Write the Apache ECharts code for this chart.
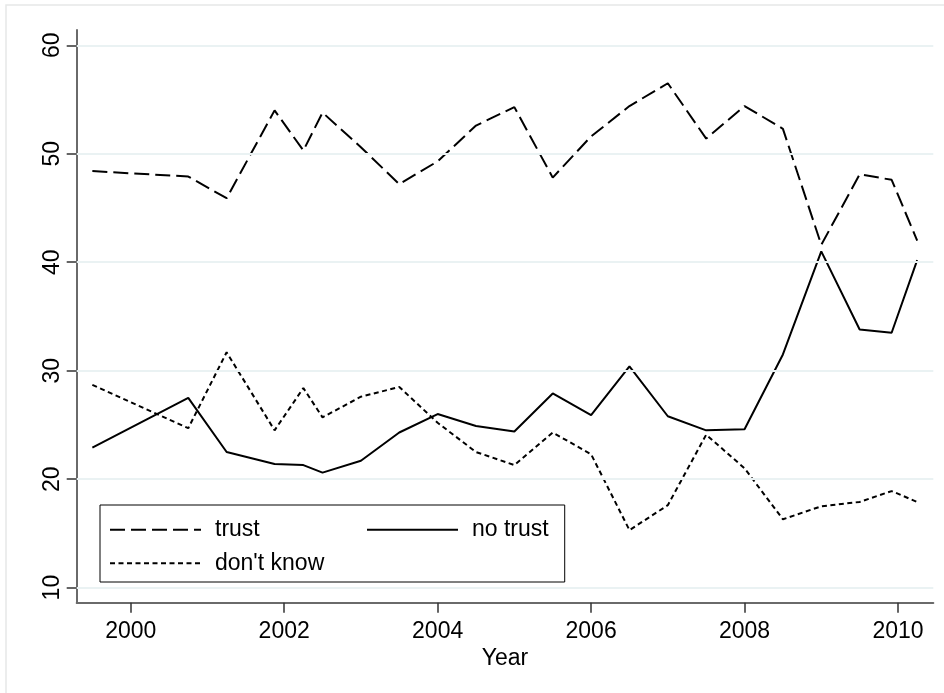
<!DOCTYPE html>
<html>
<head>
<meta charset="utf-8">
<title>Trust over time</title>
<script src="https://cdn.jsdelivr.net/npm/echarts@6/dist/echarts.min.js"></script>
<style>
  html, body { margin: 0; padding: 0; background: #ffffff; }
  #chart { width: 944px; height: 693px; }
</style>
</head>
<body>
<div id="chart"></div>
<script>
// Survey dates (decimal years) and shares of respondents, in percent
const surveyDates = [1999.5, 2000.75, 2001.25, 2001.875, 2002.25, 2002.5, 2003.0, 2003.5,
  2004.0, 2004.5, 2005.0, 2005.5, 2006.0, 2006.5, 2007.0, 2007.5, 2008.0, 2008.5,
  2009.0, 2009.5, 2009.917, 2010.25];
const trust = [48.4, 47.9, 45.9, 54.0, 50.3, 53.8, 50.6, 47.2, 49.3, 52.6, 54.3, 47.8,
  51.6, 54.4, 56.5, 51.4, 54.4, 52.3, 41.6, 48.1, 47.6, 42.0];
const noTrust = [22.9, 27.5, 22.5, 21.4, 21.3, 20.6, 21.7, 24.3, 26.0, 24.9, 24.4, 27.9,
  25.9, 30.4, 25.8, 24.5, 24.6, 31.5, 41.0, 33.8, 33.5, 40.2];
const dontKnow = [28.7, 24.7, 31.7, 24.5, 28.4, 25.7, 27.6, 28.5, 25.2, 22.5, 21.3, 24.3,
  22.3, 15.3, 17.6, 24.1, 21.0, 16.3, 17.5, 17.9, 18.9, 17.9];

const xTicks = [2000, 2002, 2004, 2006, 2008, 2010];
const yTicks = [10, 20, 30, 40, 50, 60];
const seriesNames = ['trust', 'no trust', "don't know"];

const FONT = "'Liberation Sans', Arial, sans-serif";
const pairs = vals => surveyDates.map((d, i) => [d, vals[i]]);

const chart = echarts.init(document.getElementById('chart'), null, { renderer: 'canvas' });

chart.setOption({
  backgroundColor: '#ffffff',
  animation: false,
  textStyle: { fontFamily: FONT },
  graphic: [{
    type: 'rect',
    shape: { x: 6, y: 5, width: 960, height: 720 },
    style: { fill: null, stroke: '#e6e8e8', lineWidth: 1.5 },
    silent: true,
    z: -10
  }],
  grid: { left: 76.7, right: 10.7, top: 30, bottom: 90.3, containLabel: false },
  xAxis: {
    type: 'value',
    min: 1999.296,
    max: 2010.46,
    name: 'Year',
    nameLocation: 'middle',
    nameGap: 42,
    nameTextStyle: { fontFamily: FONT, fontSize: 23, color: '#000' },
    axisLine: { show: true, onZero: false, lineStyle: { color: '#6a6a6a', width: 2 } },
    axisTick: { show: true, length: 10, customValues: xTicks, lineStyle: { color: '#333', width: 1.5 } },
    axisLabel: {
      customValues: xTicks, margin: 17, fontFamily: FONT, fontSize: 23, color: '#000',
      formatter: v => String(Math.round(v))
    },
    splitLine: { show: false }
  },
  yAxis: {
    type: 'value',
    min: 8.61,
    max: 61.41,
    axisLine: { show: true, onZero: false, lineStyle: { color: '#6a6a6a', width: 2 } },
    axisTick: { show: true, length: 10, customValues: yTicks, lineStyle: { color: '#333', width: 1.5 } },
    axisLabel: {
      customValues: yTicks, rotate: 90, margin: 13, fontFamily: FONT, fontSize: 23, color: '#000',
      formatter: v => String(Math.round(v))
    },
    splitLine: { show: false }
  },
  legend: {
    data: seriesNames.map((n, i) => i === 0 ? { name: n, textStyle: { width: 151 } } : { name: n }),
    left: 100,
    top: 505,
    width: 450,
    orient: 'horizontal',
    align: 'left',
    padding: [8, 16, 2, 9],
    itemGap: 0,
    itemWidth: 91,
    itemHeight: 14,
    borderColor: '#000',
    borderWidth: 1,
    backgroundColor: '#ffffff',
    selectedMode: false,
    itemStyle: { color: 'rgba(0,0,0,0)', borderWidth: 0, opacity: 0 },
    textStyle: { fontFamily: FONT, fontSize: 23, color: '#000', lineHeight: 33.5, padding: [0, 0, 0, 9] }
  },
  series: [
    {
      // horizontal reference lines at the labelled values
      type: 'line',
      data: [],
      silent: true,
      z: 1,
      markLine: {
        silent: true,
        symbol: 'none',
        label: { show: false },
        lineStyle: { color: '#eaf2f3', type: 'solid', width: 2 },
        data: yTicks.map(v => ({ yAxis: v }))
      }
    },
    {
      name: seriesNames[0],
      type: 'line',
      data: pairs(trust),
      symbol: 'none',
      z: 3,
      lineStyle: { color: '#000', width: 2, type: [15, 6] },
      itemStyle: { color: '#000' }
    },
    {
      name: seriesNames[1],
      type: 'line',
      data: pairs(noTrust),
      symbol: 'none',
      z: 3,
      lineStyle: { color: '#000', width: 2, type: 'solid' },
      itemStyle: { color: '#000' }
    },
    {
      name: seriesNames[2],
      type: 'line',
      data: pairs(dontKnow),
      symbol: 'none',
      z: 3,
      lineStyle: { color: '#000', width: 2, type: [5, 3.5] },
      itemStyle: { color: '#000' }
    }
  ]
});
</script>
</body>
</html>
